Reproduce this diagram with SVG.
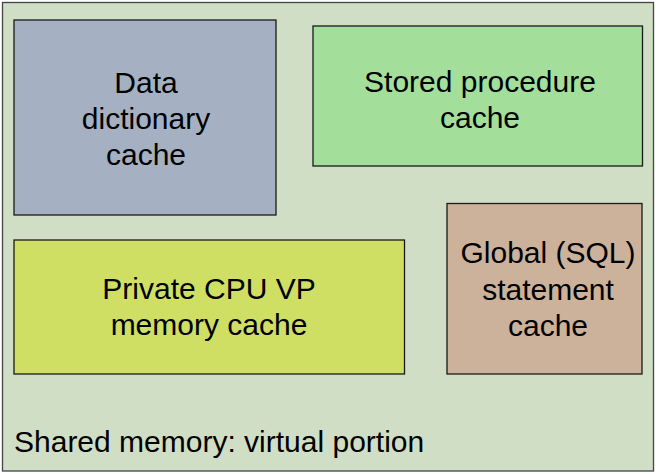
<svg xmlns="http://www.w3.org/2000/svg" width="656" height="474" viewBox="0 0 656 474">
<style>
text{font-family:"Liberation Sans",Arial,sans-serif;font-size:30px;fill:#000;text-anchor:middle}
.box{stroke:#1a1a1a;stroke-width:1.3}
</style>
<rect width="656" height="474" fill="#ffffff"/>
<g id="shared">
<rect x="2.5" y="2.5" width="651" height="468.5" fill="#cfdec4" stroke="#444" stroke-width="1.3"/>
<text x="14" y="452" style="text-anchor:start">Shared memory: virtual portion</text>
</g>
<g id="datadict">
<rect class="box" x="14" y="20" width="262" height="195" fill="#a5b1c2"/>
<text x="146" y="93">Data</text>
<text x="146" y="129">dictionary</text>
<text x="146" y="165">cache</text>
</g>
<g id="storedproc">
<rect class="box" x="313" y="26" width="329.5" height="140" fill="#a3df9b"/>
<text x="480" y="92">Stored procedure</text>
<text x="480" y="128">cache</text>
</g>
<g id="private">
<rect class="box" x="14" y="240" width="390.5" height="134" fill="#cfdf63"/>
<text x="209" y="299">Private CPU VP</text>
<text x="209" y="335">memory cache</text>
</g>
<g id="global">
<rect class="box" x="447" y="203.5" width="195" height="170.5" fill="#ccb19b"/>
<text x="548" y="263">Global (SQL)</text>
<text x="548" y="300">statement</text>
<text x="548" y="336">cache</text>
</g>
<g id="connectors"/>
</svg>
